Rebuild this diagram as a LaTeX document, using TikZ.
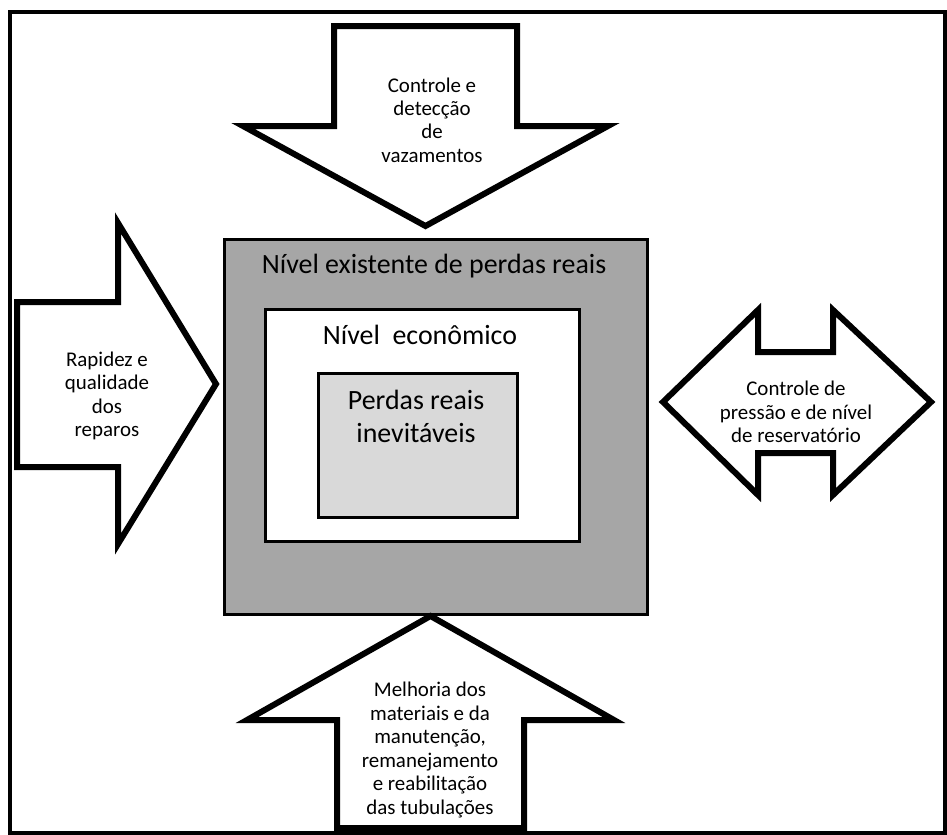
\documentclass[tikz,border=0pt]{standalone}
\usepackage{fontspec}
\setmainfont{Carlito}
\definecolor{outergray}{HTML}{A6A6A6}
\definecolor{innergray}{HTML}{D9D9D9}
\begin{document}
\begin{tikzpicture}[x=1bp,y=-1bp,
  arrowshape/.style={draw=black,fill=white,line width=6bp,line join=miter},
  box/.style={draw=black,line width=3bp,inner sep=0pt,anchor=north west},
  small/.style={font=\fontsize{21}{23.5}\selectfont,align=center},
  big/.style={font=\fontsize{28}{33}\selectfont,align=center}]
\useasboundingbox (0,0) rectangle (947,835);
\draw[line width=3.5bp] (10,835) -- (10,12) -- (945,12) -- (945,833) -- (10,833);
% boxes
\node[box,fill=outergray,minimum width=423bp,minimum height=375bp] (outer) at (223,238) {};
\node[box,fill=white,minimum width=314bp,minimum height=232bp] (mid) at (264,308) {};
\node[box,fill=innergray,minimum width=199bp,minimum height=144bp] (inner) at (317,372) {};
\node[big] (tOuter) at (434,266) {Nível existente de perdas reais};
\node[big] (tMid) at (420,335) {Nível\hspace{0.45em}econômico};
\node[big] (tInner) at (416,416) {Perdas reais\\inevitáveis};
% arrows
\draw[arrowshape] (334,26) -- (517,26) -- (517,126) -- (608,126) -- (425.5,226) -- (243,126) -- (334,126) -- cycle;
\draw[arrowshape] (17,302) -- (118,302) -- (118,223) -- (216,384) -- (118,544) -- (118,467) -- (17,467) -- cycle;
\draw[arrowshape] (663,402) -- (758,310) -- (758,352) -- (833,352) -- (833,310) -- (931,402) -- (833,495) -- (833,453) -- (758,453) -- (758,495) -- cycle;
\draw[arrowshape] (430.5,616) -- (614,720) -- (524,720) -- (524,828) -- (337,828) -- (337,720) -- (247,720) -- cycle;
% arrow texts
\node[small] (tTop) at (432,120) {Controle e\\detecção\\de\\vazamentos};
\node[small] (tLeft) at (107,396) {Rapidez e\\qualidade\\dos\\reparos};
\node[small] (tRight) at (796,412) {Controle de\\pressão e de nível\\de reservatório};
\node[small] (tBottom) at (430,750) {Melhoria dos\\materiais e da\\manutenção,\\remanejamento\\e reabilitação\\das tubulações};
\end{tikzpicture}
\end{document}
